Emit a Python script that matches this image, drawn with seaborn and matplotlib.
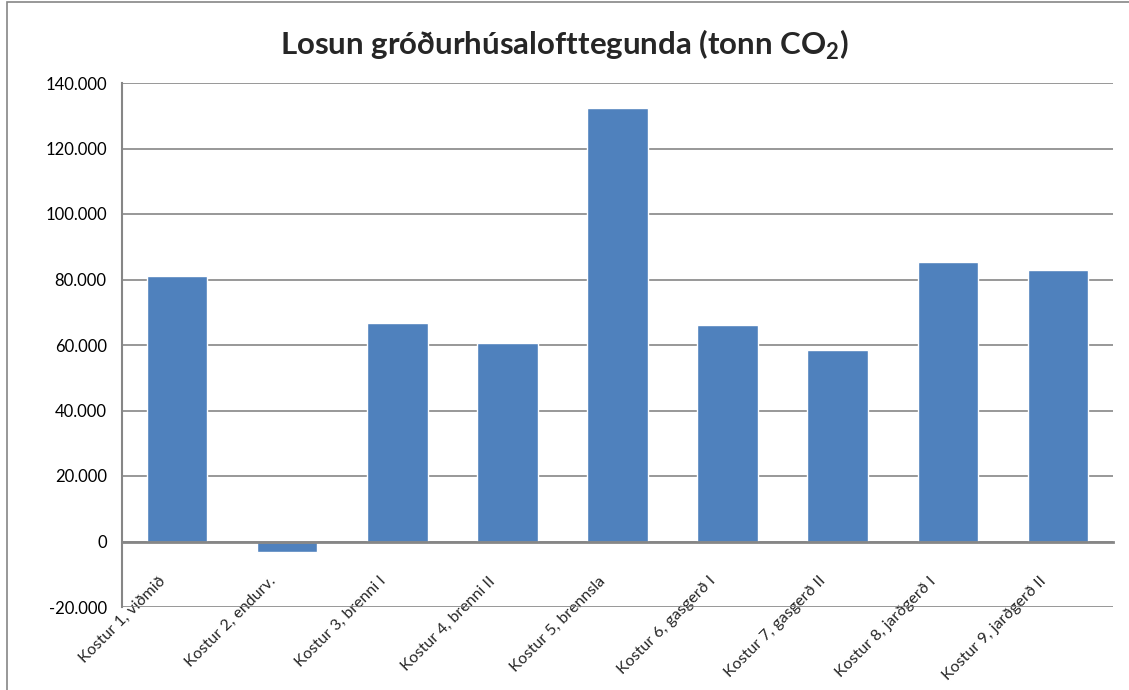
import numpy as np
import pandas as pd
import matplotlib
matplotlib.use('Agg')
import matplotlib.pyplot as plt
import seaborn as sns
from matplotlib.ticker import FuncFormatter
from matplotlib.patches import Rectangle
from matplotlib.transforms import ScaledTranslation

# data
kostir = ['Kostur 1, viðmið', 'Kostur 2, endurv.', 'Kostur 3, brenni I',
          'Kostur 4, brenni II', 'Kostur 5, brennsla', 'Kostur 6, gasgerð I',
          'Kostur 7, gasgerð II', 'Kostur 8, jarðgerð I', 'Kostur 9, jarðgerð II']
losun = [81000, -3300, 66700, 60600, 132300, 66000, 58500, 85400, 82800]

df = pd.DataFrame({'Kostur': kostir, 'Losun': losun})

sns.set_style('white')
plt.rcParams['font.family'] = ['Lato', 'DejaVu Sans']

fig = plt.figure(figsize=(11.29, 6.9), dpi=100)
ax = fig.add_axes([122/1129, 1-607/690, (1113-122)/1129, (607-83)/690])

sns.barplot(data=df, x='Kostur', y='Losun', color='#4F81BD', width=0.55,
            saturation=1, ax=ax, zorder=3)

ax.set_ylim(-20000, 140000)
ax.set_yticks(np.arange(-20000, 140001, 20000))
ax.yaxis.set_major_formatter(FuncFormatter(lambda v, p: f"{v:,.0f}".replace(',', '.')))
ax.grid(axis='y', color='#868686', lw=1.2, zorder=0)
ax.set_xlim(-0.5, len(kostir) - 0.5)

# x axis sits on the zero line, like in Excel
ax.spines['bottom'].set_position(('data', 0))
ax.spines['bottom'].set_color('#868686')
ax.spines['bottom'].set_linewidth(2)
ax.spines['bottom'].set_zorder(4)
for s in ['top', 'right']:
    ax.spines[s].set_visible(False)
ax.spines['left'].set_color('#868686')
ax.spines['left'].set_linewidth(1.5)

ax.set_xlabel('')
ax.set_ylabel('')
ax.tick_params(axis='y', labelsize=12, length=0, pad=11, colors='black')
ax.tick_params(axis='x', length=0, pad=27)
shift = ScaledTranslation(-14/100, 0, fig.dpi_scale_trans)
for lbl in ax.get_xticklabels():
    lbl.set_rotation(45)
    lbl.set_ha('right')
    lbl.set_va('center')
    lbl.set_rotation_mode('anchor')
    lbl.set_fontsize(11.5)
    lbl.set_transform(lbl.get_transform() + shift)

fig.text(0.5, 1-45/690, 'Losun gróðurhúsalofttegunda (tonn CO$_\\mathregular{2}$)',
         ha='center', va='center', fontsize=22.5, fontweight='bold')

fig.patches.append(Rectangle((7/1129, -0.01), 1.1, 1-2/690 + 0.01,
                             transform=fig.transFigure, fill=False,
                             edgecolor='#868686', lw=1.2))

fig.savefig('out.png', dpi=100)
